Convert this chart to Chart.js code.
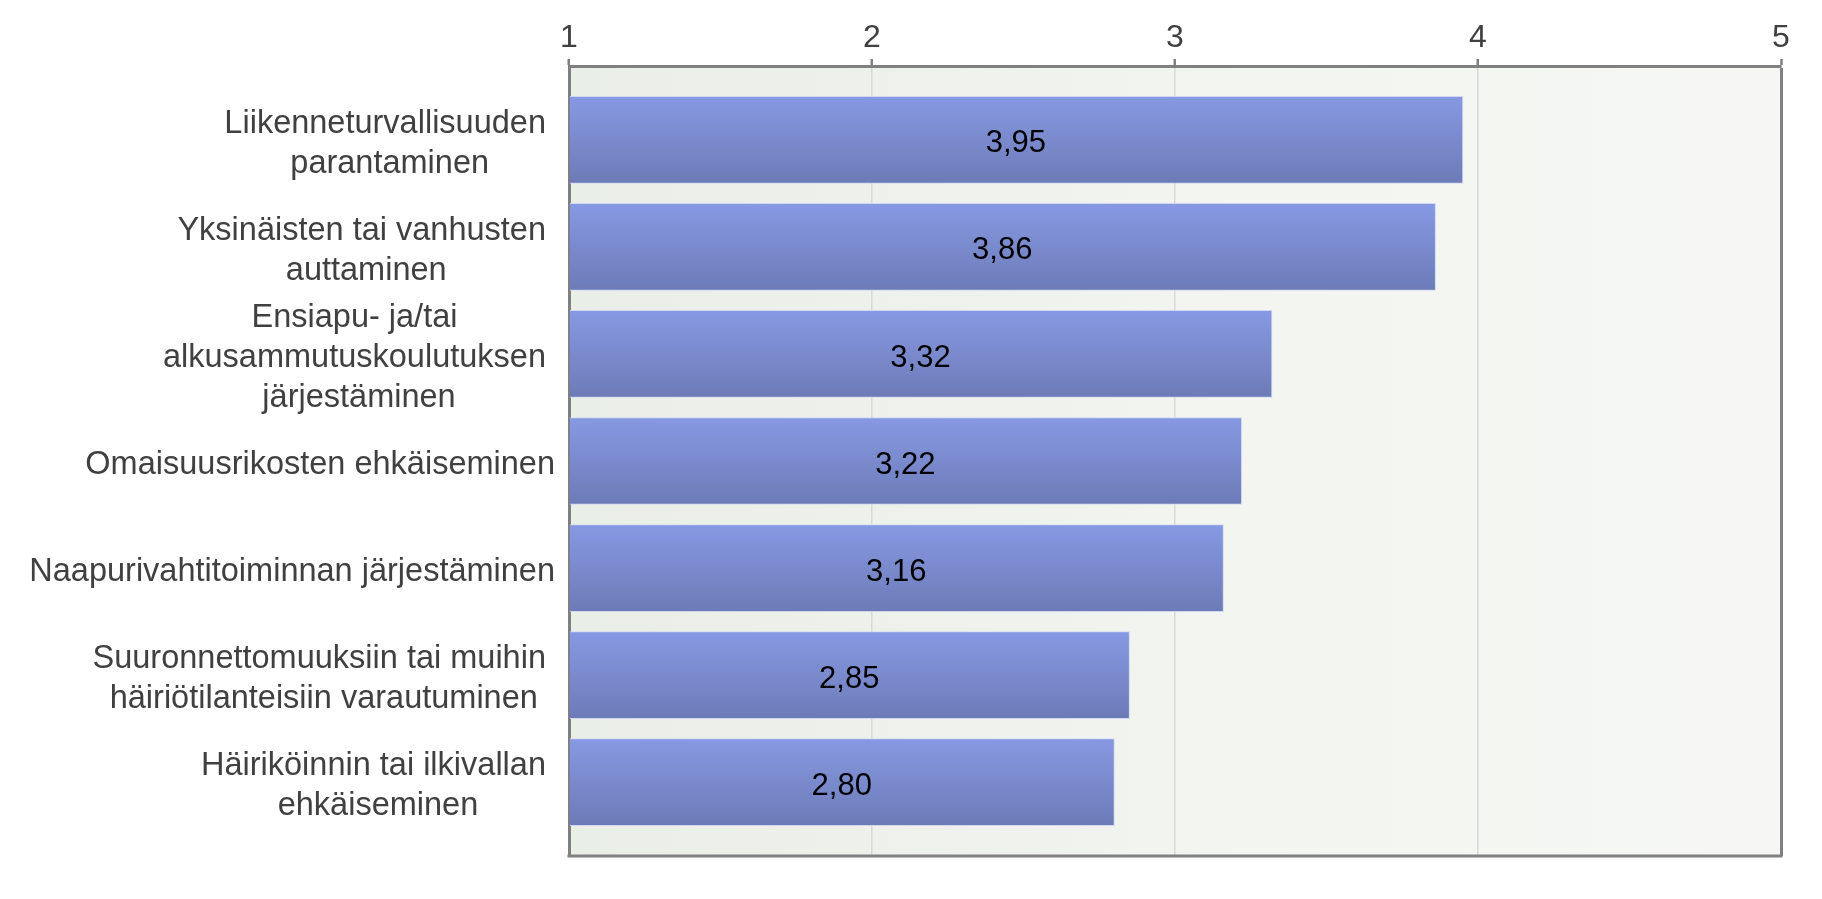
<!DOCTYPE html>
<html lang="fi">
<head>
<meta charset="utf-8">
<title>Keskiarvot</title>
<script src="https://cdn.jsdelivr.net/npm/chart.js@4.4.1/dist/chart.umd.min.js"></script>
<style>
    html, body { margin: 0; padding: 0; background: #ffffff; }
    #wrap { width: 1822px; height: 899px; position: relative; }
</style>
</head>
<body>
<div id="wrap"><canvas id="avgChart"></canvas></div>
<script>
// Category labels, already wrapped the way the original shows them
const categories = [
    ['Liikenneturvallisuuden', 'parantaminen'],
    ['Yksinäisten tai vanhusten', 'auttaminen'],
    ['Ensiapu- ja/tai', 'alkusammutuskoulutuksen', 'järjestäminen'],
    ['Omaisuusrikosten ehkäiseminen'],
    ['Naapurivahtitoiminnan järjestäminen'],
    ['Suuronnettomuuksiin tai muihin', 'häiriötilanteisiin varautuminen'],
    ['Häiriköinnin tai ilkivallan', 'ehkäiseminen']
];

const averages = [3.95, 3.86, 3.32, 3.22, 3.16, 2.85, 2.80];

const scaleTicks = [1, 2, 3, 4, 5];

const FONT = "'Liberation Sans', Arial, sans-serif";

document.addEventListener('DOMContentLoaded', function () {
    initChart();
});

let chartInstance = null;

// Plot background: soft greenish grey, lighter to the right
const plotBackground = {
    id: 'plotBackground',
    beforeDraw(chart) {
        const { ctx, chartArea } = chart;
        if (!chartArea) return;
        const g = ctx.createLinearGradient(chartArea.left, 0, chartArea.right, 0);
        g.addColorStop(0, '#e9eee6');
        g.addColorStop(0.55, '#f2f5f0');
        g.addColorStop(1, '#f6f7f4');
        ctx.save();
        ctx.fillStyle = g;
        ctx.fillRect(chartArea.left, chartArea.top, chartArea.right - chartArea.left, chartArea.bottom - chartArea.top);
        ctx.restore();
    },
    afterDraw(chart) {
        // bottom edge of the frame
        const { ctx, chartArea } = chart;
        ctx.save();
        ctx.strokeStyle = '#808080';
        ctx.lineWidth = 3;
        ctx.beginPath();
        ctx.moveTo(chartArea.left - 1.5, chartArea.bottom);
        ctx.lineTo(chartArea.right + 1.5, chartArea.bottom);
        ctx.stroke();
        ctx.restore();
    }
};

// Value text in the middle of each bar (Finnish decimal comma)
const valueLabels = {
    id: 'valueLabels',
    afterDatasetsDraw(chart) {
        const { ctx } = chart;
        const meta = chart.getDatasetMeta(0);
        const left = chart.scales.x.getPixelForValue(scaleTicks[0]);
        ctx.save();
        ctx.font = '31px ' + FONT;
        ctx.fillStyle = '#000000';
        ctx.textAlign = 'center';
        ctx.textBaseline = 'middle';
        meta.data.forEach((bar, i) => {
            const txt = averages[i].toFixed(2).replace('.', ',');
            ctx.fillText(txt, (bar.x + left) / 2, bar.y + 4);
        });
        ctx.restore();
    }
};

// Category labels: lines centred on each other, block right aligned
const categoryLabels = {
    id: 'categoryLabels',
    afterDraw(chart) {
        const { ctx, chartArea } = chart;
        const yScale = chart.scales.y;
        const lineHeight = 40;
        const rightEdge = chartArea.left - 14;
        ctx.save();
        ctx.font = '32.5px ' + FONT;
        ctx.fillStyle = '#404040';
        ctx.textAlign = 'center';
        ctx.textBaseline = 'middle';
        categories.forEach((lines, i) => {
            // wrapped lines keep their trailing space, like the source chart
            const texts = lines.map((l, k) => k < lines.length - 1 ? l + ' ' : l);
            const blockW = Math.max(...texts.map(t => ctx.measureText(t).width));
            const cx = rightEdge - blockW / 2;
            const cy = yScale.getPixelForValue(i) + 4;
            const y0 = cy - (texts.length - 1) * lineHeight / 2;
            texts.forEach((t, k) => {
                ctx.fillText(t, cx, y0 + k * lineHeight);
            });
        });
        ctx.restore();
    }
};

function barGradient(context) {
    const chart = context.chart;
    if (!chart.chartArea) return '#7a8acb';
    const y = chart.scales.y.getPixelForValue(context.dataIndex);
    const g = chart.ctx.createLinearGradient(0, y - 44, 0, y + 44);
    g.addColorStop(0, '#8799e3');
    g.addColorStop(1, '#6c7bb7');
    return g;
}

function initChart() {
    const canvas = document.getElementById('avgChart');
    if (!canvas) return;

    const ctx = canvas.getContext('2d');

    chartInstance = new Chart(ctx, {
        type: 'bar',
        data: {
            datasets: [{
                label: 'Keskiarvo',
                data: averages.map((v, i) => ({ x: v, y: i })),
                base: scaleTicks[0],
                backgroundColor: barGradient,
                borderColor: 'rgba(205, 212, 242, 0.9)',
                borderWidth: 1,
                barThickness: 87
            }]
        },
        options: {
            indexAxis: 'y',
            responsive: true,
            maintainAspectRatio: false,
            animation: false,
            layout: {
                padding: { left: 0, top: 0, right: 41, bottom: 43 }
            },
            plugins: {
                legend: { display: false },
                tooltip: { enabled: false }
            },
            scales: {
                x: {
                    type: 'linear',
                    position: 'top',
                    min: scaleTicks[0],
                    max: scaleTicks[scaleTicks.length - 1],
                    afterBuildTicks: function (scale) {
                        scale.ticks = scaleTicks.map(v => ({ value: v }));
                    },
                    afterFit: function (scale) {
                        scale.height = 66;
                    },
                    ticks: {
                        color: '#404040',
                        font: { family: FONT, size: 32 },
                        padding: 2,
                        maxRotation: 0
                    },
                    grid: {
                        color: c => (c.tick && c.tick.value === 5) ? '#808080' : '#d9d9d9',
                        lineWidth: c => (c.tick && c.tick.value === 5) ? 3 : 1.5,
                        tickColor: '#808080',
                        tickLength: 7,
                        tickWidth: 2.5
                    },
                    border: { color: '#808080', width: 3 }
                },
                y: {
                    type: 'linear',
                    reverse: true,
                    offset: false,
                    min: -0.69,
                    max: categories.length - 1 + 0.69,
                    afterFit: function (scale) {
                        scale.width = 569;
                    },
                    ticks: { display: false },
                    grid: { display: false },
                    border: { color: '#808080', width: 3 }
                }
            }
        },
        plugins: [plotBackground, valueLabels, categoryLabels]
    });
}
</script>
</body>
</html>
